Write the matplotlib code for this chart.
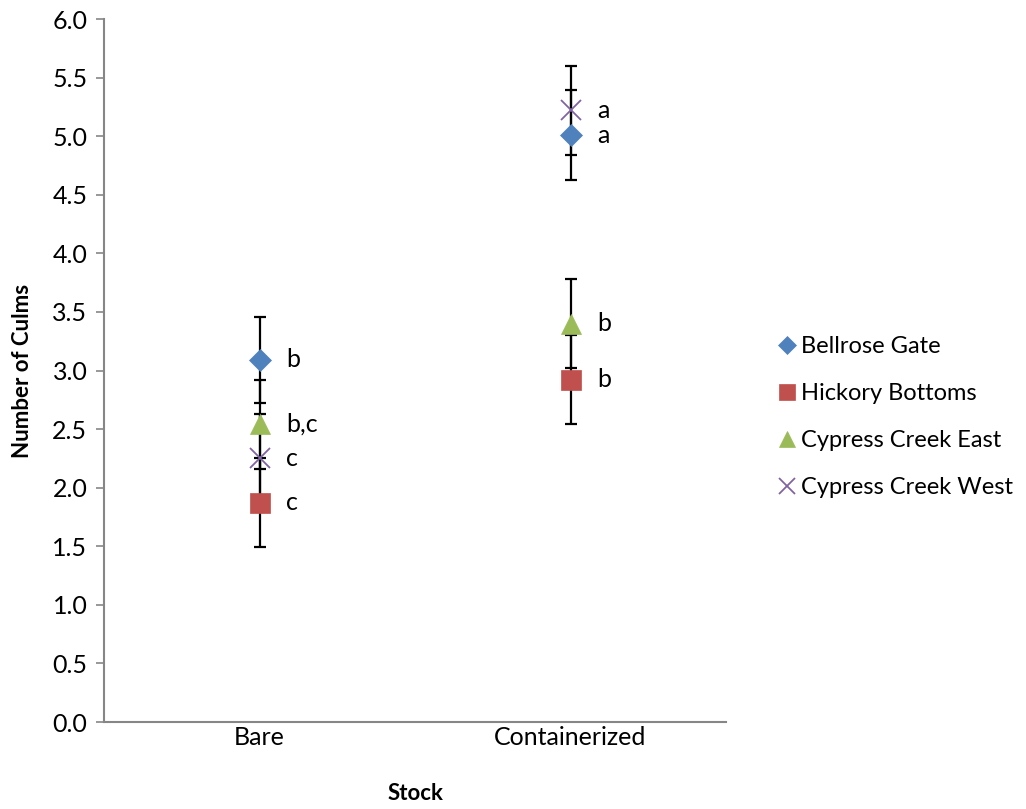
import matplotlib
matplotlib.use("Agg")
import matplotlib.pyplot as plt
import numpy as np

categories = ["Bare", "Containerized"]
series = ["Bellrose Gate", "Hickory Bottoms", "Cypress Creek East", "Cypress Creek West"]
means = {
    "Bellrose Gate": [3.09, 5.01],
    "Hickory Bottoms": [1.87, 2.92],
    "Cypress Creek East": [2.54, 3.40],
    "Cypress Creek West": [2.25, 5.22],
}
errors = {
    "Bellrose Gate": [0.37, 0.38],
    "Hickory Bottoms": [0.38, 0.38],
    "Cypress Creek East": [0.38, 0.38],
    "Cypress Creek West": [0.38, 0.38],
}
letters = {
    "Bellrose Gate": ["b", "a"],
    "Hickory Bottoms": ["c", "b"],
    "Cypress Creek East": ["b,c", "b"],
    "Cypress Creek West": ["c", "a"],
}
yticks = [0.0, 0.5, 1.0, 1.5, 2.0, 2.5, 3.0, 3.5, 4.0, 4.5, 5.0, 5.5, 6.0]

colors = ["#4F81BD", "#C0504D", "#9BBB59", "#8064A2"]
markers = ["D", "s", "^", "x"]
msizes = [11, 14, 14, 14]

plt.rcParams['font.family'] = ['Lato', 'DejaVu Sans']

fig = plt.figure(figsize=(10.26, 8.09), dpi=100)
ax = fig.add_axes([0.1014, 0.1075, 0.6062, 0.869])

x = np.arange(len(categories))
for i, s in enumerate(series):
    ax.errorbar(x, means[s], yerr=errors[s], fmt="none", ecolor="black",
                elinewidth=1.6, capsize=4.5, capthick=1.6, zorder=2)
for i, s in enumerate(series):
    kw = dict(marker=markers[i], color=colors[i], markersize=msizes[i], linestyle="none", label=s)
    if markers[i] == "x":
        kw["markeredgewidth"] = 1.3
    else:
        kw["markeredgecolor"] = colors[i]
        kw["markeredgewidth"] = 0.5
    ax.plot(x, means[s], zorder=3, **kw)
    for j in range(len(categories)):
        ax.annotate(letters[s][j], (x[j], means[s][j]), xytext=(19, 0),
                    textcoords="offset points", va="center", ha="left", fontsize=18)

ax.set_xlim(-0.5, 1.5)
ax.set_ylim(0, 6)
ax.set_yticks(yticks)
ax.set_yticklabels([f"{v:.1f}" for v in yticks], fontsize=18)
ax.set_xticks(x)
ax.set_xticklabels(categories, fontsize=18)
ax.tick_params(axis="x", length=0, pad=3)
ax.tick_params(axis="y", length=6, width=1.2, color="#868686", pad=6)
for sp in ["top", "right"]:
    ax.spines[sp].set_visible(False)
for sp in ["left", "bottom"]:
    ax.spines[sp].set_color("#868686")
    ax.spines[sp].set_linewidth(1.5)

ax.set_ylabel("Number of Culms", fontsize=16, fontweight="bold", labelpad=14)
ax.set_xlabel("Stock", fontsize=16, fontweight="bold", labelpad=24)

leg = ax.legend(loc="center left", bbox_to_anchor=(1.07, 0.434), frameon=False,
                fontsize=17, handlelength=0.7, handletextpad=0.25, labelspacing=1.1,
                borderaxespad=0, markerscale=0.85)

fig.savefig("out.png", dpi=100)
